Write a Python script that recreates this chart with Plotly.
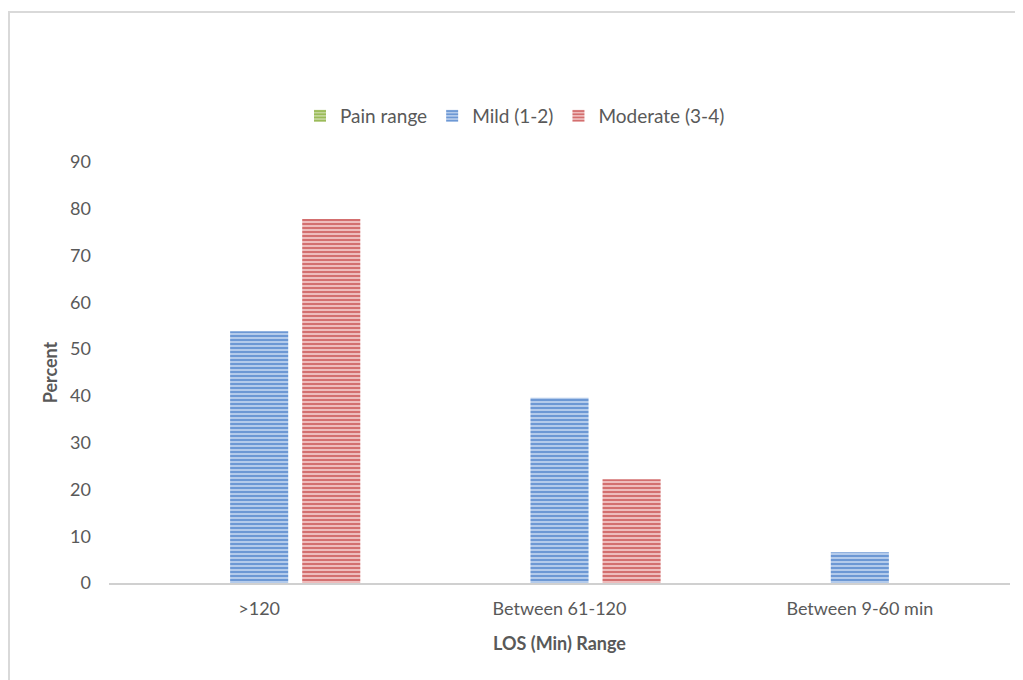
import plotly.graph_objects as go

categories = [">120", "Between 61-120", "Between 9-60 min"]
pain_range = [0, 0, 0]
mild = [53.8, 39.6, 6.6]
moderate = [77.8, 22.2, 0]
y_ticks = [0, 10, 20, 30, 40, 50, 60, 70, 80, 90]

FONT = "Lato"
GRAY = "#595959"

# page has an 8px body margin; figure occupies 1015x672 starting at (8, 8)
W, H = 1015, 672
ML, MR, MT, MB = 101, 13, 154, 97
PW = W - ML - MR
PH = H - MT - MB

fig = go.Figure()
fig.add_trace(go.Bar(
    x=categories, y=pain_range, name="Pain range",
    marker=dict(color="#c3d69b", line=dict(width=0),
                pattern=dict(shape="-", fgcolor="#9bbb59", bgcolor="#c3d69b", size=4, solidity=0.5, fillmode="replace")),
))
fig.add_trace(go.Bar(
    x=categories, y=mild, name="Mild (1-2)",
    marker=dict(color="#a7c1e6", line=dict(width=0),
                pattern=dict(shape="-", fgcolor="#6592d2", bgcolor="#b4cbeb", size=4, solidity=0.45, fillmode="replace")),
))
fig.add_trace(go.Bar(
    x=categories, y=moderate, name="Moderate (3-4)",
    marker=dict(color="#e8aaaa", line=dict(width=0),
                pattern=dict(shape="-", fgcolor="#d06666", bgcolor="#eebcbc", size=4, solidity=0.45, fillmode="replace")),
))

fig.update_layout(
    width=W, height=H,
    margin=dict(l=ML, r=MR, t=MT, b=MB),
    paper_bgcolor="white", plot_bgcolor="white",
    barmode="group", bargap=0.28, bargroupgap=0.194,
    font=dict(family=FONT, size=18, color=GRAY),
    showlegend=True,
    legend=dict(orientation="h", x=(300 - 109) / PW, xanchor="left", y=1.0 + (162 - 116) / PH, yanchor="middle",
                font=dict(family=FONT, size=19, color=GRAY), traceorder="normal"),
    xaxis=dict(
        showline=True, linecolor="#d0d0d0", linewidth=2,
        showgrid=False, ticks="", tickfont=dict(size=18, color=GRAY), ticklabelstandoff=8,
        title=dict(text="<b>LOS (Min) Range</b>", font=dict(size=18, color=GRAY), standoff=20),
    ),
    yaxis=dict(
        range=[0, 90], tickvals=y_ticks, showline=False, showgrid=False, zeroline=False,
        ticks="", tickfont=dict(size=18, color=GRAY), ticklabelstandoff=17,
        title=dict(text="<b>Percent</b>", font=dict(size=18, color=GRAY), standoff=7),
    ),
    shapes=[
        dict(type="line", xref="paper", yref="paper", x0=(0 - ML) / PW, x1=(W + 20 - ML) / PW,
             y0=1 + (MT - 4) / PH, y1=1 + (MT - 4) / PH, line=dict(color="#d9d9d9", width=2)),
        dict(type="line", xref="paper", yref="paper", x0=(1 - ML) / PW, x1=(1 - ML) / PW,
             y0=1 + (MT - 4) / PH, y1=-(MB + 20) / PH, line=dict(color="#d9d9d9", width=2)),
    ],
)

fig.write_html("out.html")
